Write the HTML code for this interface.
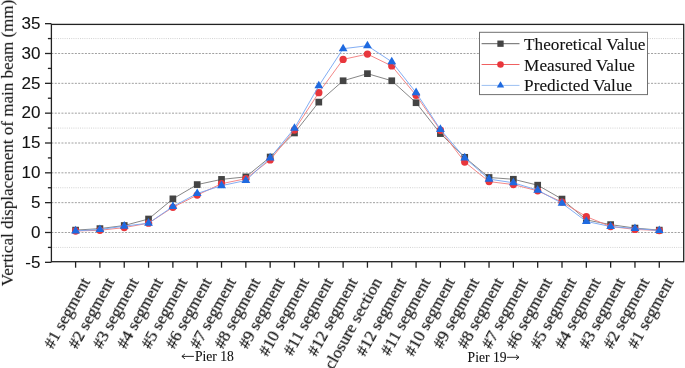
<!DOCTYPE html><html><head><meta charset="utf-8"><style>html,body{margin:0;padding:0;background:#fff;width:685px;height:368px;overflow:hidden}svg{display:block} text{filter:url(#gs);stroke:#111;stroke-width:0.1px} text.xl{stroke-width:0.2px}</style></head><body>
<svg width="685" height="368" viewBox="0 0 685 368">
<defs><filter id="gs" x="-10%" y="-50%" width="120%" height="200%"><feColorMatrix type="saturate" values="0"/></filter></defs>
<rect width="685" height="368" fill="#fff"/>
<line x1="51.4" x2="683.7" y1="53.49" y2="53.49" stroke="#a0a0a0" stroke-width="1" stroke-dasharray="2 1.35"/>
<line x1="51.4" x2="683.7" y1="83.33" y2="83.33" stroke="#a0a0a0" stroke-width="1" stroke-dasharray="2 1.35"/>
<line x1="51.4" x2="683.7" y1="113.16" y2="113.16" stroke="#a0a0a0" stroke-width="1" stroke-dasharray="2 1.35"/>
<line x1="51.4" x2="683.7" y1="143.00" y2="143.00" stroke="#a0a0a0" stroke-width="1" stroke-dasharray="2 1.35"/>
<line x1="51.4" x2="683.7" y1="172.83" y2="172.83" stroke="#a0a0a0" stroke-width="1" stroke-dasharray="2 1.35"/>
<line x1="51.4" x2="683.7" y1="202.66" y2="202.66" stroke="#a0a0a0" stroke-width="1" stroke-dasharray="2 1.35"/>
<line x1="51.4" x2="683.7" y1="232.50" y2="232.50" stroke="#a0a0a0" stroke-width="1" stroke-dasharray="2 1.35"/>
<line x1="51.4" x2="683.7" y1="38.57" y2="38.57" stroke="#d2d2d2" stroke-width="1" stroke-dasharray="1 1.2"/>
<line x1="51.4" x2="683.7" y1="128.08" y2="128.08" stroke="#d2d2d2" stroke-width="1" stroke-dasharray="1 1.2"/>
<line x1="51.4" x2="683.7" y1="187.75" y2="187.75" stroke="#d2d2d2" stroke-width="1" stroke-dasharray="1 1.2"/>
<line x1="51.4" x2="683.7" y1="247.42" y2="247.42" stroke="#d2d2d2" stroke-width="1" stroke-dasharray="1 1.2"/>
<polyline points="75.60,230.11 99.92,228.62 124.24,225.52 148.56,219.01 172.88,198.85 197.20,184.58 221.52,179.39 245.84,176.89 270.16,157.02 294.48,132.97 318.80,102.12 343.12,80.76 367.44,73.66 391.76,80.76 416.08,102.72 440.40,133.57 464.72,157.32 489.04,177.48 513.36,179.27 537.68,185.18 562.00,199.08 586.32,219.91 610.64,224.62 634.96,228.08 659.28,230.11" fill="none" stroke="#787878" stroke-width="0.9" stroke-linejoin="round"/>
<rect x="72.25" y="226.76" width="6.7" height="6.7" fill="#444"/>
<rect x="96.57" y="225.27" width="6.7" height="6.7" fill="#444"/>
<rect x="120.89" y="222.17" width="6.7" height="6.7" fill="#444"/>
<rect x="145.21" y="215.66" width="6.7" height="6.7" fill="#444"/>
<rect x="169.53" y="195.50" width="6.7" height="6.7" fill="#444"/>
<rect x="193.85" y="181.23" width="6.7" height="6.7" fill="#444"/>
<rect x="218.17" y="176.04" width="6.7" height="6.7" fill="#444"/>
<rect x="242.49" y="173.54" width="6.7" height="6.7" fill="#444"/>
<rect x="266.81" y="153.67" width="6.7" height="6.7" fill="#444"/>
<rect x="291.13" y="129.62" width="6.7" height="6.7" fill="#444"/>
<rect x="315.45" y="98.77" width="6.7" height="6.7" fill="#444"/>
<rect x="339.77" y="77.41" width="6.7" height="6.7" fill="#444"/>
<rect x="364.09" y="70.31" width="6.7" height="6.7" fill="#444"/>
<rect x="388.41" y="77.41" width="6.7" height="6.7" fill="#444"/>
<rect x="412.73" y="99.37" width="6.7" height="6.7" fill="#444"/>
<rect x="437.05" y="130.22" width="6.7" height="6.7" fill="#444"/>
<rect x="461.37" y="153.97" width="6.7" height="6.7" fill="#444"/>
<rect x="485.69" y="174.13" width="6.7" height="6.7" fill="#444"/>
<rect x="510.01" y="175.92" width="6.7" height="6.7" fill="#444"/>
<rect x="534.33" y="181.83" width="6.7" height="6.7" fill="#444"/>
<rect x="558.65" y="195.73" width="6.7" height="6.7" fill="#444"/>
<rect x="582.97" y="216.56" width="6.7" height="6.7" fill="#444"/>
<rect x="607.29" y="221.27" width="6.7" height="6.7" fill="#444"/>
<rect x="631.61" y="224.73" width="6.7" height="6.7" fill="#444"/>
<rect x="655.93" y="226.76" width="6.7" height="6.7" fill="#444"/>
<polyline points="75.60,231.01 99.92,230.29 124.24,227.61 148.56,223.13 172.88,207.32 197.20,195.09 221.52,183.69 245.84,178.68 270.16,159.94 294.48,129.99 318.80,92.63 343.12,59.40 367.44,54.09 391.76,65.96 416.08,95.32 440.40,130.23 464.72,162.03 489.04,181.60 513.36,184.58 537.68,190.85 562.00,202.07 586.32,216.63 610.64,226.53 634.96,229.40 659.28,230.53" fill="none" stroke="#f27a7a" stroke-width="0.9" stroke-linejoin="round"/>
<circle cx="75.60" cy="231.01" r="3.65" fill="#e8363c"/>
<circle cx="99.92" cy="230.29" r="3.65" fill="#e8363c"/>
<circle cx="124.24" cy="227.61" r="3.65" fill="#e8363c"/>
<circle cx="148.56" cy="223.13" r="3.65" fill="#e8363c"/>
<circle cx="172.88" cy="207.32" r="3.65" fill="#e8363c"/>
<circle cx="197.20" cy="195.09" r="3.65" fill="#e8363c"/>
<circle cx="221.52" cy="183.69" r="3.65" fill="#e8363c"/>
<circle cx="245.84" cy="178.68" r="3.65" fill="#e8363c"/>
<circle cx="270.16" cy="159.94" r="3.65" fill="#e8363c"/>
<circle cx="294.48" cy="129.99" r="3.65" fill="#e8363c"/>
<circle cx="318.80" cy="92.63" r="3.65" fill="#e8363c"/>
<circle cx="343.12" cy="59.40" r="3.65" fill="#e8363c"/>
<circle cx="367.44" cy="54.09" r="3.65" fill="#e8363c"/>
<circle cx="391.76" cy="65.96" r="3.65" fill="#e8363c"/>
<circle cx="416.08" cy="95.32" r="3.65" fill="#e8363c"/>
<circle cx="440.40" cy="130.23" r="3.65" fill="#e8363c"/>
<circle cx="464.72" cy="162.03" r="3.65" fill="#e8363c"/>
<circle cx="489.04" cy="181.60" r="3.65" fill="#e8363c"/>
<circle cx="513.36" cy="184.58" r="3.65" fill="#e8363c"/>
<circle cx="537.68" cy="190.85" r="3.65" fill="#e8363c"/>
<circle cx="562.00" cy="202.07" r="3.65" fill="#e8363c"/>
<circle cx="586.32" cy="216.63" r="3.65" fill="#e8363c"/>
<circle cx="610.64" cy="226.53" r="3.65" fill="#e8363c"/>
<circle cx="634.96" cy="229.40" r="3.65" fill="#e8363c"/>
<circle cx="659.28" cy="230.53" r="3.65" fill="#e8363c"/>
<polyline points="75.60,230.89 99.92,229.52 124.24,226.12 148.56,223.19 172.88,206.54 197.20,193.48 221.52,185.66 245.84,180.47 270.16,157.91 294.48,128.26 318.80,85.83 343.12,48.72 367.44,45.73 391.76,61.78 416.08,92.63 440.40,129.39 464.72,157.91 489.04,179.10 513.36,182.79 537.68,190.13 562.00,203.26 586.32,221.40 610.64,226.53 634.96,228.50 659.28,230.53" fill="none" stroke="#74a4f2" stroke-width="0.9" stroke-linejoin="round"/>
<polygon points="75.60,225.81 71.20,233.43 80.00,233.43" fill="#1f6ae0"/>
<polygon points="99.92,224.44 95.52,232.06 104.32,232.06" fill="#1f6ae0"/>
<polygon points="124.24,221.03 119.84,228.66 128.64,228.66" fill="#1f6ae0"/>
<polygon points="148.56,218.11 144.16,225.73 152.96,225.73" fill="#1f6ae0"/>
<polygon points="172.88,201.46 168.48,209.08 177.28,209.08" fill="#1f6ae0"/>
<polygon points="197.20,188.40 192.80,196.02 201.60,196.02" fill="#1f6ae0"/>
<polygon points="221.52,180.58 217.12,188.20 225.92,188.20" fill="#1f6ae0"/>
<polygon points="245.84,175.39 241.44,183.01 250.24,183.01" fill="#1f6ae0"/>
<polygon points="270.16,152.83 265.76,160.45 274.56,160.45" fill="#1f6ae0"/>
<polygon points="294.48,123.18 290.08,130.80 298.88,130.80" fill="#1f6ae0"/>
<polygon points="318.80,80.75 314.40,88.37 323.20,88.37" fill="#1f6ae0"/>
<polygon points="343.12,43.64 338.72,51.26 347.52,51.26" fill="#1f6ae0"/>
<polygon points="367.44,40.65 363.04,48.27 371.84,48.27" fill="#1f6ae0"/>
<polygon points="391.76,56.70 387.36,64.32 396.16,64.32" fill="#1f6ae0"/>
<polygon points="416.08,87.55 411.68,95.17 420.48,95.17" fill="#1f6ae0"/>
<polygon points="440.40,124.31 436.00,131.93 444.80,131.93" fill="#1f6ae0"/>
<polygon points="464.72,152.83 460.32,160.45 469.12,160.45" fill="#1f6ae0"/>
<polygon points="489.04,174.01 484.64,181.64 493.44,181.64" fill="#1f6ae0"/>
<polygon points="513.36,177.71 508.96,185.34 517.76,185.34" fill="#1f6ae0"/>
<polygon points="537.68,185.05 533.28,192.67 542.08,192.67" fill="#1f6ae0"/>
<polygon points="562.00,198.18 557.60,205.80 566.40,205.80" fill="#1f6ae0"/>
<polygon points="586.32,216.32 581.92,223.94 590.72,223.94" fill="#1f6ae0"/>
<polygon points="610.64,221.45 606.24,229.07 615.04,229.07" fill="#1f6ae0"/>
<polygon points="634.96,223.42 630.56,231.04 639.36,231.04" fill="#1f6ae0"/>
<polygon points="659.28,225.45 654.88,233.07 663.68,233.07" fill="#1f6ae0"/>
<rect x="51.4" y="24.4" width="632.3000000000001" height="237.29999999999998" fill="none" stroke="#222" stroke-width="1.3"/>
<line x1="45.0" x2="51.4" y1="262.33" y2="262.33" stroke="#222" stroke-width="1.3"/>
<line x1="45.0" x2="51.4" y1="232.50" y2="232.50" stroke="#222" stroke-width="1.3"/>
<line x1="45.0" x2="51.4" y1="202.66" y2="202.66" stroke="#222" stroke-width="1.3"/>
<line x1="45.0" x2="51.4" y1="172.83" y2="172.83" stroke="#222" stroke-width="1.3"/>
<line x1="45.0" x2="51.4" y1="143.00" y2="143.00" stroke="#222" stroke-width="1.3"/>
<line x1="45.0" x2="51.4" y1="113.16" y2="113.16" stroke="#222" stroke-width="1.3"/>
<line x1="45.0" x2="51.4" y1="83.33" y2="83.33" stroke="#222" stroke-width="1.3"/>
<line x1="45.0" x2="51.4" y1="53.49" y2="53.49" stroke="#222" stroke-width="1.3"/>
<line x1="45.0" x2="51.4" y1="23.66" y2="23.66" stroke="#222" stroke-width="1.3"/>
<line x1="47.9" x2="51.4" y1="247.42" y2="247.42" stroke="#222" stroke-width="1.3"/>
<line x1="47.9" x2="51.4" y1="217.58" y2="217.58" stroke="#222" stroke-width="1.3"/>
<line x1="47.9" x2="51.4" y1="187.75" y2="187.75" stroke="#222" stroke-width="1.3"/>
<line x1="47.9" x2="51.4" y1="157.91" y2="157.91" stroke="#222" stroke-width="1.3"/>
<line x1="47.9" x2="51.4" y1="128.08" y2="128.08" stroke="#222" stroke-width="1.3"/>
<line x1="47.9" x2="51.4" y1="98.24" y2="98.24" stroke="#222" stroke-width="1.3"/>
<line x1="47.9" x2="51.4" y1="68.41" y2="68.41" stroke="#222" stroke-width="1.3"/>
<line x1="47.9" x2="51.4" y1="38.57" y2="38.57" stroke="#222" stroke-width="1.3"/>
<line x1="75.60" x2="75.60" y1="261.7" y2="267.7" stroke="#222" stroke-width="1.3"/>
<line x1="99.92" x2="99.92" y1="261.7" y2="267.7" stroke="#222" stroke-width="1.3"/>
<line x1="124.24" x2="124.24" y1="261.7" y2="267.7" stroke="#222" stroke-width="1.3"/>
<line x1="148.56" x2="148.56" y1="261.7" y2="267.7" stroke="#222" stroke-width="1.3"/>
<line x1="172.88" x2="172.88" y1="261.7" y2="267.7" stroke="#222" stroke-width="1.3"/>
<line x1="197.20" x2="197.20" y1="261.7" y2="267.7" stroke="#222" stroke-width="1.3"/>
<line x1="221.52" x2="221.52" y1="261.7" y2="267.7" stroke="#222" stroke-width="1.3"/>
<line x1="245.84" x2="245.84" y1="261.7" y2="267.7" stroke="#222" stroke-width="1.3"/>
<line x1="270.16" x2="270.16" y1="261.7" y2="267.7" stroke="#222" stroke-width="1.3"/>
<line x1="294.48" x2="294.48" y1="261.7" y2="267.7" stroke="#222" stroke-width="1.3"/>
<line x1="318.80" x2="318.80" y1="261.7" y2="267.7" stroke="#222" stroke-width="1.3"/>
<line x1="343.12" x2="343.12" y1="261.7" y2="267.7" stroke="#222" stroke-width="1.3"/>
<line x1="367.44" x2="367.44" y1="261.7" y2="267.7" stroke="#222" stroke-width="1.3"/>
<line x1="391.76" x2="391.76" y1="261.7" y2="267.7" stroke="#222" stroke-width="1.3"/>
<line x1="416.08" x2="416.08" y1="261.7" y2="267.7" stroke="#222" stroke-width="1.3"/>
<line x1="440.40" x2="440.40" y1="261.7" y2="267.7" stroke="#222" stroke-width="1.3"/>
<line x1="464.72" x2="464.72" y1="261.7" y2="267.7" stroke="#222" stroke-width="1.3"/>
<line x1="489.04" x2="489.04" y1="261.7" y2="267.7" stroke="#222" stroke-width="1.3"/>
<line x1="513.36" x2="513.36" y1="261.7" y2="267.7" stroke="#222" stroke-width="1.3"/>
<line x1="537.68" x2="537.68" y1="261.7" y2="267.7" stroke="#222" stroke-width="1.3"/>
<line x1="562.00" x2="562.00" y1="261.7" y2="267.7" stroke="#222" stroke-width="1.3"/>
<line x1="586.32" x2="586.32" y1="261.7" y2="267.7" stroke="#222" stroke-width="1.3"/>
<line x1="610.64" x2="610.64" y1="261.7" y2="267.7" stroke="#222" stroke-width="1.3"/>
<line x1="634.96" x2="634.96" y1="261.7" y2="267.7" stroke="#222" stroke-width="1.3"/>
<line x1="659.28" x2="659.28" y1="261.7" y2="267.7" stroke="#222" stroke-width="1.3"/>
<text x="40.4" y="267.53" text-anchor="end" font-family="Liberation Sans, sans-serif" font-size="17" fill="#111">-5</text>
<text x="40.4" y="237.70" text-anchor="end" font-family="Liberation Sans, sans-serif" font-size="17" fill="#111">0</text>
<text x="40.4" y="207.86" text-anchor="end" font-family="Liberation Sans, sans-serif" font-size="17" fill="#111">5</text>
<text x="40.4" y="178.03" text-anchor="end" font-family="Liberation Sans, sans-serif" font-size="17" fill="#111">10</text>
<text x="40.4" y="148.19" text-anchor="end" font-family="Liberation Sans, sans-serif" font-size="17" fill="#111">15</text>
<text x="40.4" y="118.36" text-anchor="end" font-family="Liberation Sans, sans-serif" font-size="17" fill="#111">20</text>
<text x="40.4" y="88.53" text-anchor="end" font-family="Liberation Sans, sans-serif" font-size="17" fill="#111">25</text>
<text x="40.4" y="58.69" text-anchor="end" font-family="Liberation Sans, sans-serif" font-size="17" fill="#111">30</text>
<text x="40.4" y="28.86" text-anchor="end" font-family="Liberation Sans, sans-serif" font-size="17" fill="#111">35</text>
<text transform="translate(12.9,142.9) rotate(-90)" text-anchor="middle" font-family="Liberation Serif, serif" font-size="17.15" fill="#111" textLength="286.4" lengthAdjust="spacingAndGlyphs">Vertical displacement of main beam (mm)</text>
<text class="xl" transform="translate(85.40,278.70) rotate(-61)" text-anchor="end" font-family="Liberation Serif, serif" font-size="17" fill="#111" dy="0.35em">#1 segment</text>
<text class="xl" transform="translate(109.72,278.70) rotate(-61)" text-anchor="end" font-family="Liberation Serif, serif" font-size="17" fill="#111" dy="0.35em">#2 segment</text>
<text class="xl" transform="translate(134.04,278.70) rotate(-61)" text-anchor="end" font-family="Liberation Serif, serif" font-size="17" fill="#111" dy="0.35em">#3 segment</text>
<text class="xl" transform="translate(158.36,278.70) rotate(-61)" text-anchor="end" font-family="Liberation Serif, serif" font-size="17" fill="#111" dy="0.35em">#4 segment</text>
<text class="xl" transform="translate(182.68,278.70) rotate(-61)" text-anchor="end" font-family="Liberation Serif, serif" font-size="17" fill="#111" dy="0.35em">#5 segment</text>
<text class="xl" transform="translate(207.00,278.70) rotate(-61)" text-anchor="end" font-family="Liberation Serif, serif" font-size="17" fill="#111" dy="0.35em">#6 segment</text>
<text class="xl" transform="translate(231.32,278.70) rotate(-61)" text-anchor="end" font-family="Liberation Serif, serif" font-size="17" fill="#111" dy="0.35em">#7 segment</text>
<text class="xl" transform="translate(255.64,278.70) rotate(-61)" text-anchor="end" font-family="Liberation Serif, serif" font-size="17" fill="#111" dy="0.35em">#8 segment</text>
<text class="xl" transform="translate(279.96,278.70) rotate(-61)" text-anchor="end" font-family="Liberation Serif, serif" font-size="17" fill="#111" dy="0.35em">#9 segment</text>
<text class="xl" transform="translate(304.28,278.70) rotate(-61)" text-anchor="end" font-family="Liberation Serif, serif" font-size="17" fill="#111" dy="0.35em">#10 segment</text>
<text class="xl" transform="translate(328.60,278.70) rotate(-61)" text-anchor="end" font-family="Liberation Serif, serif" font-size="17" fill="#111" dy="0.35em">#11 segment</text>
<text class="xl" transform="translate(352.92,278.70) rotate(-61)" text-anchor="end" font-family="Liberation Serif, serif" font-size="17" fill="#111" dy="0.35em">#12 segment</text>
<text class="xl" transform="translate(377.24,278.70) rotate(-61)" text-anchor="end" font-family="Liberation Serif, serif" font-size="17" fill="#111" dy="0.35em">closure section</text>
<text class="xl" transform="translate(401.56,278.70) rotate(-61)" text-anchor="end" font-family="Liberation Serif, serif" font-size="17" fill="#111" dy="0.35em">#12 segment</text>
<text class="xl" transform="translate(425.88,278.70) rotate(-61)" text-anchor="end" font-family="Liberation Serif, serif" font-size="17" fill="#111" dy="0.35em">#11 segment</text>
<text class="xl" transform="translate(450.20,278.70) rotate(-61)" text-anchor="end" font-family="Liberation Serif, serif" font-size="17" fill="#111" dy="0.35em">#10 segment</text>
<text class="xl" transform="translate(474.52,278.70) rotate(-61)" text-anchor="end" font-family="Liberation Serif, serif" font-size="17" fill="#111" dy="0.35em">#9 segment</text>
<text class="xl" transform="translate(498.84,278.70) rotate(-61)" text-anchor="end" font-family="Liberation Serif, serif" font-size="17" fill="#111" dy="0.35em">#8 segment</text>
<text class="xl" transform="translate(523.16,278.70) rotate(-61)" text-anchor="end" font-family="Liberation Serif, serif" font-size="17" fill="#111" dy="0.35em">#7 segment</text>
<text class="xl" transform="translate(547.48,278.70) rotate(-61)" text-anchor="end" font-family="Liberation Serif, serif" font-size="17" fill="#111" dy="0.35em">#6 segment</text>
<text class="xl" transform="translate(571.80,278.70) rotate(-61)" text-anchor="end" font-family="Liberation Serif, serif" font-size="17" fill="#111" dy="0.35em">#5 segment</text>
<text class="xl" transform="translate(596.12,278.70) rotate(-61)" text-anchor="end" font-family="Liberation Serif, serif" font-size="17" fill="#111" dy="0.35em">#4 segment</text>
<text class="xl" transform="translate(620.44,278.70) rotate(-61)" text-anchor="end" font-family="Liberation Serif, serif" font-size="17" fill="#111" dy="0.35em">#3 segment</text>
<text class="xl" transform="translate(644.76,278.70) rotate(-61)" text-anchor="end" font-family="Liberation Serif, serif" font-size="17" fill="#111" dy="0.35em">#2 segment</text>
<text class="xl" transform="translate(669.08,278.70) rotate(-61)" text-anchor="end" font-family="Liberation Serif, serif" font-size="17" fill="#111" dy="0.35em">#1 segment</text>
<text x="195.0" y="360.9" font-family="Liberation Serif, serif" font-size="13.6" fill="#111">Pier 18</text>
<text x="467.6" y="362.1" font-family="Liberation Serif, serif" font-size="13.6" fill="#111">Pier 19</text>
<path d="M181.9 356.4 H193.9 M184.9 354.0 L181.9 356.4 L184.9 358.79999999999995" fill="none" stroke="#111" stroke-width="0.9"/>
<path d="M506.9 357.3 H519.0 M516.0 354.90000000000003 L519.0 357.3 L516.0 359.7" fill="none" stroke="#111" stroke-width="0.9"/>
<rect x="479.5" y="32.3" width="168.0" height="62.3" fill="#fff" stroke="#707070" stroke-width="1"/>
<line x1="481.6" x2="519.5" y1="43.7" y2="43.7" stroke="#666" stroke-width="1"/>
<rect x="497.35" y="40.55" width="6.3" height="6.3" fill="#444"/>
<text x="524.1" y="49.7" font-family="Liberation Serif, serif" font-size="17.2" fill="#111">Theoretical Value</text>
<line x1="481.6" x2="519.5" y1="64.5" y2="64.5" stroke="#f06060" stroke-width="1"/>
<circle cx="500.50" cy="64.50" r="3.3" fill="#e8363c"/>
<text x="524.1" y="70.5" font-family="Liberation Serif, serif" font-size="17.2" fill="#111">Measured Value</text>
<line x1="481.6" x2="519.5" y1="85.4" y2="85.4" stroke="#9cc0f2" stroke-width="1"/>
<polygon points="500.50,81.13 496.80,87.54 504.20,87.54" fill="#1f6ae0"/>
<text x="524.1" y="91.4" font-family="Liberation Serif, serif" font-size="17.2" fill="#111">Predicted Value</text>
</svg></body></html>
